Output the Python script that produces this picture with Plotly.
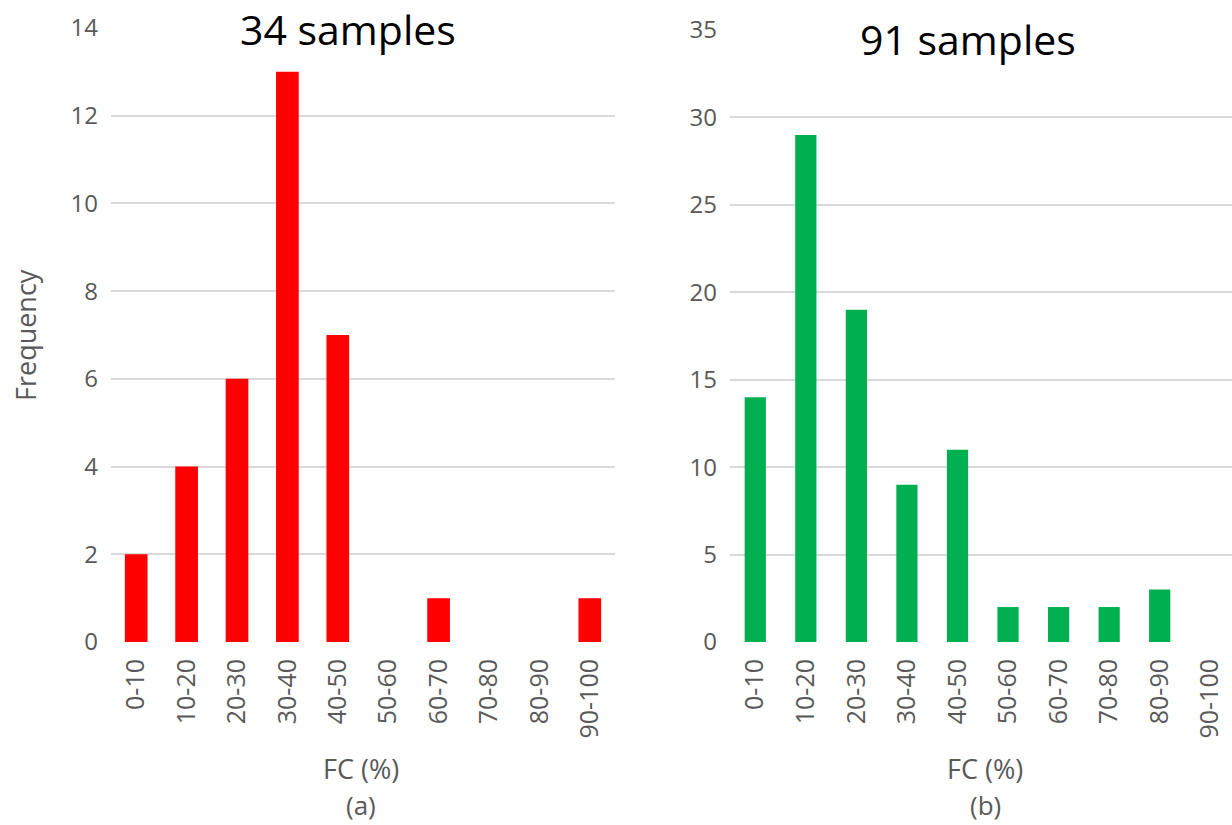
import plotly.graph_objects as go

# FC bins shared by both histograms
bins = ["0-10", "10-20", "20-30", "30-40", "40-50",
        "50-60", "60-70", "70-80", "80-90", "90-100"]

# (a) 34 samples
freq_a = [2, 4, 6, 13, 7, 0, 1, 0, 0, 1]
# (b) 91 samples
freq_b = [14, 29, 19, 9, 11, 2, 2, 2, 3, 0]

yticks_a = [0, 2, 4, 6, 8, 10, 12, 14]
yticks_b = [0, 5, 10, 15, 20, 25, 30, 35]

W, H = 1232, 825
FONT = "Open Sans"
TICK_COLOR = "#595959"
GRID_COLOR = "#D9D9D9"


def px_x(x):
    return x / W


def px_y(y):
    return 1 - y / H


fig = go.Figure()
fig.add_trace(go.Bar(x=bins, y=freq_a, marker=dict(color="#FF0000", line=dict(width=0)),
                     width=0.45, xaxis="x", yaxis="y", showlegend=False))
fig.add_trace(go.Bar(x=bins, y=freq_b, marker=dict(color="#00B050", line=dict(width=0)),
                     width=0.42, xaxis="x2", yaxis="y2", showlegend=False))

xcommon = dict(type="category", showgrid=False, showline=False, zeroline=False,
               ticks="", tickangle=-90, automargin=False, ticklabelstandoff=11,
               tickfont=dict(family=FONT, size=25, color=TICK_COLOR))
ycommon = dict(showgrid=True, gridcolor=GRID_COLOR, gridwidth=1.5, zeroline=False,
               showline=False, ticks="", ticklabelstandoff=12, automargin=False,
               tickfont=dict(family=FONT, size=24, color=TICK_COLOR))

label_font = dict(family=FONT, size=27, color=TICK_COLOR)
sub_font = dict(family=FONT, size=26, color=TICK_COLOR)
title_font = dict(family=FONT, size=41, color="black")


def note(text, x, y, font, angle=0):
    return dict(text=text, x=px_x(x), y=px_y(y), xref="paper", yref="paper",
                showarrow=False, xanchor="center", yanchor="middle",
                textangle=angle, font=font)


fig.update_layout(
    width=W, height=H,
    margin=dict(l=0, r=0, t=0, b=0, pad=0),
    paper_bgcolor="white", plot_bgcolor="white",
    xaxis=dict(xcommon, domain=[px_x(111), px_x(615)], range=[-0.5, 9.5], anchor="y"),
    yaxis=dict(ycommon, domain=[px_y(642), px_y(28)], range=[0, 14],
               tickvals=yticks_a, anchor="x"),
    xaxis2=dict(xcommon, domain=[px_x(730), 1.0], range=[-0.5, 9.43], anchor="y2"),
    yaxis2=dict(ycommon, domain=[px_y(642), px_y(30)], range=[0, 35],
                tickvals=yticks_b, anchor="x2"),
    annotations=[
        note("34 samples", 348, 29, title_font),
        note("91 samples", 968, 39, title_font),
        note("Frequency", 26, 335, label_font, angle=-90),
        note("FC (%)", 361, 768, label_font),
        note("(a)", 361, 805, sub_font),
        note("FC (%)", 985, 768, label_font),
        note("(b)", 985, 805, sub_font),
    ],
)

fig.write_html("out.html")
